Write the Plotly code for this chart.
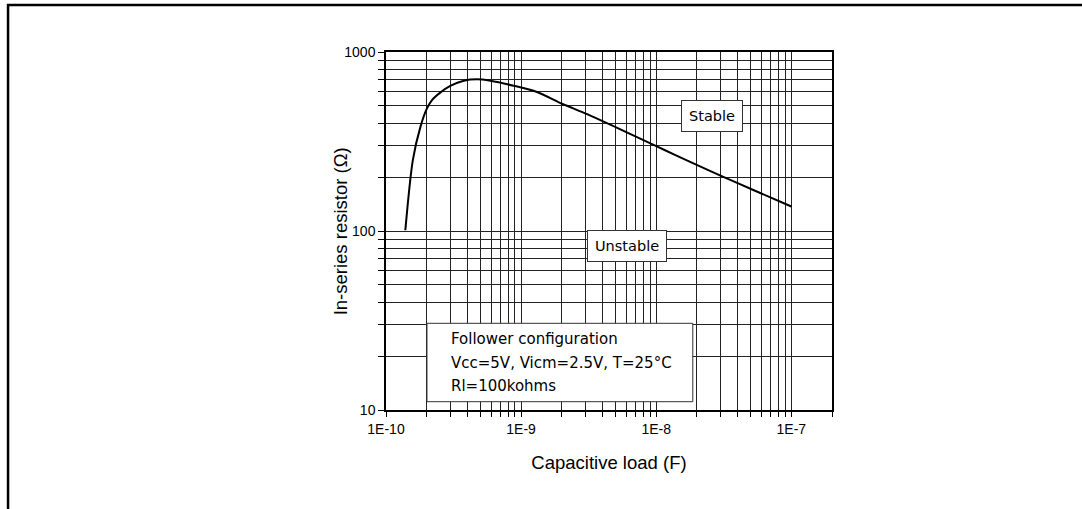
import numpy as np
import plotly.graph_objects as go

# ---- data ----
cap_load = [1.39e-10, 1.58e-10, 1.80e-10, 2.01e-10, 2.19e-10, 2.52e-10, 2.99e-10,
            3.76e-10, 4.72e-10, 5.93e-10, 8.81e-10, 1.31e-9, 2.01e-9, 3.08e-9,
            5.14e-9, 1.02e-8, 1.35e-8, 2.13e-8, 2.99e-8, 5.28e-8, 1.0e-7]
res_series = [101, 249, 383, 484, 539, 593, 646, 691, 704, 691, 648, 598, 514, 450,
              377, 296, 268, 229, 204, 169, 137]

x_decades = [1e-10, 1e-9, 1e-8, 1e-7]
x_decade_labels = ["1E-10", "1E-9", "1E-8", "1E-7"]
y_decades = [10, 100, 1000]
y_decade_labels = ["10", "100", "1000"]

stable_pos = (2.57e-8, 439)
unstable_pos = (6.08e-9, 82.5)
legend_lines = ["Follower configuration", "Vcc=5V, Vicm=2.5V, T=25°C", "Rl=100kohms"]
x_title = "Capacitive load (F)"
y_title = "In-series resistor (Ω)"

# ---- ticks (all 1..9 multiples for the log grid) ----
xtv, xtt = [], []
for d, lab in zip(x_decades, x_decade_labels):
    for m in range(1, 10):
        v = d * m
        if v <= 2e-7 * 1.0001:
            xtv.append(v)
            xtt.append(lab if m == 1 else "")
xtv.append(2e-7); xtt.append("")
ytv, ytt = [], []
for d, lab in zip(y_decades, y_decade_labels):
    for m in range(1, 10):
        v = d * m
        if v <= 1000:
            ytv.append(v)
            ytt.append(lab if m == 1 else "")

W, H = 1082, 509
L, R, T, B = 385.7, 1082 - 832, 52, 509 - 410
pw, ph = W - L - R, H - T - B

def px2paper(x, y):
    return (x - L) / pw, (H - B - y) / ph

fig = go.Figure()
fig.add_trace(go.Scatter(x=cap_load, y=res_series, mode="lines",
                         line=dict(color="black", width=2, shape="spline", smoothing=0.8),
                         showlegend=False, hoverinfo="skip"))

tickfont = dict(family="Liberation Sans, Arial, sans-serif", size=14, color="black")
titlefont = dict(family="Liberation Sans, Arial, sans-serif", size=18.5, color="black")
fig.update_xaxes(type="log", range=[np.log10(1e-10), np.log10(2e-7)],
                 tickvals=xtv, ticktext=xtt, ticks="outside", ticklen=5, tickcolor="black",
                 showgrid=True, gridcolor="#222222", gridwidth=1,
                 showline=True, mirror=True, linecolor="black", linewidth=1.5,
                 tickfont=tickfont, zeroline=False,
                 title=dict(text=x_title, standoff=21, font=titlefont))
fig.update_yaxes(type="log", range=[1, 3],
                 tickvals=ytv, ticktext=ytt, ticks="outside", ticklen=6, tickcolor="black",
                 showgrid=True, gridcolor="#222222", gridwidth=1,
                 showline=True, mirror=True, linecolor="black", linewidth=1.5,
                 tickfont=tickfont, zeroline=False)

# y axis title placed close to the tick labels, as in the reference
ytx, yty = px2paper(340, 231)
fig.add_annotation(x=ytx, y=yty, xref="paper", yref="paper", text=y_title,
                   textangle=-90, showarrow=False, xanchor="center", yanchor="middle",
                   font=titlefont)

boxfont = dict(family="DejaVu Sans, Verdana, sans-serif", size=14.5, color="black")
for txt, (cx, cy) in [("Stable", stable_pos), ("Unstable", unstable_pos)]:
    fig.add_annotation(x=np.log10(cx), y=np.log10(cy), xref="x", yref="y", text=txt,
                       showarrow=False, font=boxfont, bgcolor="white",
                       bordercolor="#333333", borderwidth=1, borderpad=7)

# legend-like info box
bx0, by0 = px2paper(426.7, 401.7)
bx1, by1 = px2paper(692.7, 323.3)
fig.add_shape(type="rect", xref="paper", yref="paper", x0=bx0, y0=by0, x1=bx1, y1=by1,
              line=dict(color="#333333", width=1), fillcolor="white", layer="above")
for line_txt, py in zip(legend_lines, [339.3, 363.3, 386.0]):
    tx, ty = px2paper(448.3, py)
    fig.add_annotation(x=tx, y=ty, xref="paper", yref="paper", text=line_txt,
                       showarrow=False, xanchor="left", yanchor="middle",
                       font=dict(family="DejaVu Sans, Verdana, sans-serif", size=15, color="black"))

# outer frame
fx0, fy1 = px2paper(7.5, 5)
fig.add_shape(type="rect", xref="paper", yref="paper", x0=fx0, y0=-1, x1=3, y1=fy1,
              line=dict(color="black", width=2.5), fillcolor="rgba(0,0,0,0)", layer="above")

fig.update_layout(width=W, height=H, margin=dict(l=L, r=R, t=T, b=B),
                  plot_bgcolor="white", paper_bgcolor="white", showlegend=False)

fig.write_html("out.html", config={"displayModeBar": False},
               post_script="document.body.style.margin='0';")
